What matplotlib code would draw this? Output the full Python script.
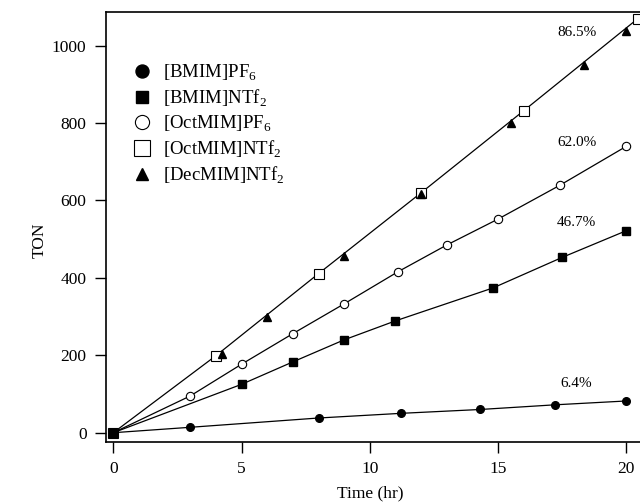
import matplotlib
matplotlib.use("Agg")
import matplotlib.pyplot as plt

plt.rcParams['font.family'] = ['Liberation Serif', 'DejaVu Serif']
plt.rcParams['mathtext.fontset'] = 'custom'
plt.rcParams['mathtext.rm'] = 'Liberation Serif'

# Data
t_bmim_pf6 = [0, 3, 8, 11.2, 14.3, 17.2, 20]
ton_bmim_pf6 = [0, 14, 38, 50, 60, 72, 82]

t_bmim_ntf2 = [0, 5, 7, 9, 11, 14.8, 17.5, 20]
ton_bmim_ntf2 = [0, 125, 183, 240, 289, 374, 453, 522]

t_oct_pf6 = [0, 3, 5, 7, 9, 11.1, 13, 15, 17.4, 20]
ton_oct_pf6 = [0, 95, 177, 256, 333, 416, 485, 552, 639, 740]

t_oct_ntf2 = [0, 4, 8, 12, 16, 20.45]
ton_oct_ntf2 = [0, 199, 411, 620, 832, 1070]

t_dec_ntf2 = [0, 4.25, 6, 9, 12, 15.5, 18.35, 20]
ton_dec_ntf2 = [0, 203, 300, 456, 616, 801, 949, 1038]

labels = [r'[BMIM]PF$_\mathregular{6}$', r'[BMIM]NTf$_\mathregular{2}$',
          r'[OctMIM]PF$_\mathregular{6}$', r'[OctMIM]NTf$_\mathregular{2}$',
          r'[DecMIM]NTf$_\mathregular{2}$']

annot_text = ['86.5%', '62.0%', '46.7%', '6.4%']
annot_x = [18.06, 18.06, 18.06, 18.06]
annot_y = [1035, 749, 544, 128]

fig = plt.figure(figsize=(6.4, 5.03), dpi=100)
ax = fig.add_axes([106/640, 61/503, 546/640, 430/503])

lw = 0.9
ms = 5.5
ax.plot(t_bmim_pf6, ton_bmim_pf6, '-', color='black', lw=lw, zorder=1)
ax.plot(t_bmim_ntf2, ton_bmim_ntf2, '-', color='black', lw=lw, zorder=1)
ax.plot(t_oct_pf6, ton_oct_pf6, '-', color='black', lw=lw, zorder=1)
ax.plot(t_oct_ntf2, ton_oct_ntf2, '-', color='black', lw=lw, zorder=1)

h3, = ax.plot(t_oct_pf6, ton_oct_pf6, 'o', mfc='white', mec='black', mew=0.8, ms=ms+0.5, ls='none', zorder=3)
h4, = ax.plot(t_oct_ntf2, ton_oct_ntf2, 's', mfc='white', mec='black', mew=0.8, ms=ms+1, ls='none', zorder=3)
h1, = ax.plot(t_bmim_pf6, ton_bmim_pf6, 'o', color='black', ms=ms, ls='none', zorder=4)
h5, = ax.plot(t_dec_ntf2, ton_dec_ntf2, '^', color='black', ms=ms, ls='none', zorder=4)
h2, = ax.plot(t_bmim_ntf2, ton_bmim_ntf2, 's', color='black', ms=ms, ls='none', zorder=5)

for txt, x, y in zip(annot_text, annot_x, annot_y):
    ax.text(x, y, txt, ha='center', va='center', fontsize=11)

ax.set_xlim(-0.285, 21.0)
ax.set_ylim(-24, 1087)
ax.set_xticks([0, 5, 10, 15, 20])
ax.set_yticks([0, 200, 400, 600, 800, 1000])
ax.tick_params(direction='out', length=8, width=1.0, labelsize=12.5, pad=6)
for s in ax.spines.values():
    s.set_linewidth(1.2)

leg = ax.legend([h1, h2, h3, h4, h5], labels, loc='upper left',
                bbox_to_anchor=(0.035, 0.90), frameon=False, fontsize=13.5,
                markerscale=1.7, handlelength=1.0, handletextpad=0.6,
                labelspacing=0.25, borderaxespad=0)

fig.text(40/640, 1 - 240/503, 'TON', rotation=90, ha='center', va='center', fontsize=12.5)
fig.text(370/640, 1 - 493/503, 'Time (hr)', ha='center', va='center', fontsize=12.5)

fig.savefig('out.png', dpi=100)
